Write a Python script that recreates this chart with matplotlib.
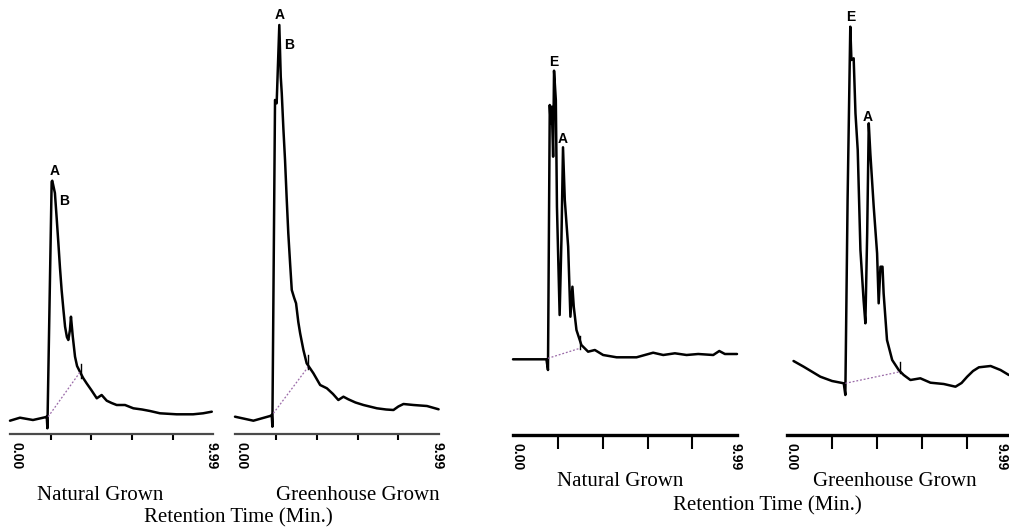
import matplotlib.pyplot as plt
from matplotlib.transforms import ScaledTranslation

# retention time (min) and detector signal
nat1_t = [0.00, 0.49, 1.13, 1.72, 1.81, 1.84, 2.05, 2.08, 2.21, 2.30, 2.38, 2.46, 2.54, 2.63,
          2.71, 2.80, 2.87, 2.95, 3.00, 3.09, 3.20, 3.30, 3.44, 3.60, 3.77, 4.00, 4.27,
          4.51, 4.76, 5.00, 5.25, 5.66, 6.07, 6.50, 6.89, 7.38, 8.20, 9.01, 9.50, 9.93]
nat1_s = [13.3, 16.3, 14.0, 16.7, 17.3, 5.7, 252.3, 253.3, 241.0, 215.0, 191.0, 166.0, 144.0, 124.0,
          107.3, 97.0, 94.0, 104.0, 117.3, 97.3, 77.3, 68.0, 62.3, 56.0, 50.7, 44.0, 35.7,
          39.0, 33.3, 31.0, 29.0, 29.0, 25.7, 24.5, 23.0, 20.7, 19.7, 19.7, 20.7, 22.3]

gh1_t = [0.00, 0.90, 1.72, 1.80, 1.83, 1.96, 2.04, 2.17, 2.24, 2.29, 2.37, 2.45, 2.53, 2.61,
         2.70, 2.78, 2.90, 2.99, 3.10, 3.19, 3.35, 3.51, 3.84, 4.17, 4.50, 4.80, 5.06, 5.31,
         5.55, 5.90, 6.29, 6.95, 7.40, 7.76, 8.00, 8.25, 8.74, 9.40, 9.97]
gh1_s = [17.3, 13.3, 18.0, 19.0, 7.3, 334.0, 330.7, 409.0, 357.3, 340.7, 305.0, 274.0, 236.0, 200.7,
         170.0, 144.0, 136.0, 130.7, 112.0, 100.7, 84.0, 70.7, 60.7, 49.0, 45.7, 40.0, 34.0, 37.3,
         34.7, 31.5, 29.0, 25.7, 24.5, 24.0, 27.5, 30.0, 29.0, 28.0, 24.7]

nat2_t = [0.00, 1.49, 1.56, 1.64, 1.68, 1.73, 1.79, 1.83, 1.91, 1.96, 2.08, 2.16, 2.23,
          2.31, 2.46, 2.56, 2.65, 2.71, 2.83, 3.05, 3.35, 3.65, 4.02, 4.62, 5.51, 6.25,
          6.70, 7.22, 7.74, 8.26, 8.93, 9.20, 9.45, 9.99]
nat2_s = [75.7, 75.7, 65.0, 330.0, 311.7, 328.3, 278.3, 364.3, 335.0, 228.3, 120.0, 195.0, 287.7,
          235.0, 188.3, 118.3, 148.3, 128.3, 105.0, 90.0, 83.3, 85.0, 80.0, 77.7, 77.7, 82.3,
          80.0, 81.7, 80.0, 81.0, 80.0, 84.0, 81.0, 81.0]

gh2_t = [0.29, 0.74, 1.48, 2.00, 2.52, 2.59, 2.69, 2.81, 2.86, 2.96, 3.04, 3.14, 3.26, 3.40,
         3.48, 3.56, 3.63, 3.70, 3.85, 4.00, 4.07, 4.15, 4.24, 4.29, 4.44, 4.67, 4.96,
         5.18, 5.48, 5.92, 6.37, 6.96, 7.48, 7.75, 8.00, 8.26, 8.52, 9.04, 9.48, 9.85]
gh2_s = [74.0, 68.3, 58.3, 54.0, 51.7, 40.0, 235.0, 408.3, 375.0, 376.7, 321.7, 285.0, 185.0, 135.0,
         111.7, 201.7, 311.7, 281.7, 228.3, 181.7, 131.7, 168.3, 168.3, 141.7, 95.0, 75.0, 65.0,
         60.0, 55.0, 56.7, 52.3, 51.0, 48.3, 52.0, 58.3, 64.0, 67.7, 69.0, 65.0, 60.0]

# integration baselines (start, end) and end marker
base_t = [[1.88, 3.45], [1.88, 3.59], [1.56, 2.98], [2.59, 5.03]]
base_s = [[17.3, 62.0], [20.7, 67.3], [76.7, 86.7], [51.7, 63.3]]
mark_t = [3.50, 3.59, 2.98, 5.00]
mark_s = [[56, 70], [65, 79], [86, 99], [62, 73]]

# peak labels
peak_names = [["A", "B"], ["A", "B"], ["E", "A"], ["E", "A"]]
peak_t = [[2.18, 2.66], [2.21, 2.65], [1.83, 2.23], [2.81, 3.58]]
peak_s = [[263, 233], [419, 389], [373, 296], [418, 318]]

traces = [(nat1_t, nat1_s), (gh1_t, gh1_s), (nat2_t, nat2_s), (gh2_t, gh2_s)]
t_max = 9.99
tick_min = [2, 4, 6, 8]

W, H = 1009, 529
fig = plt.figure(figsize=(W / 100, H / 100), dpi=100)

# pixel frame of each panel: axis start, axis end, axis line y
frames = [(10, 213, 434), (235, 439, 434), (513, 737, 435), (787, 1012, 435)]
heavy = [False, False, True, True]
lbl_dx = [[6, -2], [6, -2], [4, -2], [4, -10]]

for i, (x0, x1, yb) in enumerate(frames):
    ax = fig.add_axes([x0 / W, (H - yb) / H, (x1 - x0) / W, yb / H])
    ax.set_xlim(0, t_max)
    ax.set_ylim(0, yb)
    for side in ["top", "left", "right"]:
        ax.spines[side].set_visible(False)
    sp = ax.spines["bottom"]
    if heavy[i]:
        sp.set_linewidth(2.4)
        sp.set_color("black")
        tick_len = 10
    else:
        sp.set_linewidth(1.6)
        sp.set_color("#4a4a4a")
        sp.set_linestyle((0, (2, 1)))
        tick_len = 4
    ax.set_yticks([])
    ax.set_xticks([0, t_max])
    ax.set_xticklabels(["0.00", "9.99"], rotation=270, fontsize=10,
                       fontweight="bold", family="Liberation Sans")
    ax.tick_params(axis="x", which="major", length=0, pad=6)
    ax.set_xticks(tick_min, minor=True)
    ax.tick_params(axis="x", which="minor", length=tick_len, width=1.5,
                   color="black", direction="out")
    for lab, dx in zip(ax.get_xticklabels(), lbl_dx[i]):
        lab.set_transform(lab.get_transform() + ScaledTranslation(dx / 100, 0, fig.dpi_scale_trans))
    ax.patch.set_alpha(0)

    t, s = traces[i]
    ax.plot(t, s, color="black", lw=1.8, clip_on=False,
            solid_joinstyle="round", solid_capstyle="round")
    ax.plot(base_t[i], base_s[i], color="#9a6aa8", lw=0.9, ls=(0, (1.5, 1.5)))
    ax.plot([mark_t[i], mark_t[i]], mark_s[i], color="black", lw=1.0)
    for name, pt, ps in zip(peak_names[i], peak_t[i], peak_s[i]):
        ax.text(pt, ps, name, ha="center", va="center", fontsize=10,
                fontweight="bold", family="Liberation Sans")

captions = [("Natural Grown", 100, 495), ("Greenhouse Grown", 358, 495),
            ("Retention Time (Min.)", 238, 518), ("Natural Grown", 620, 482),
            ("Greenhouse Grown", 895, 482), ("Retention Time (Min.)", 767, 506)]
for txt, cx, cy in captions:
    fig.text(cx / W, 1 - cy / H, txt, ha="center", va="center",
             fontsize=15, family="Liberation Serif")

fig.savefig("out.png", dpi=100)
